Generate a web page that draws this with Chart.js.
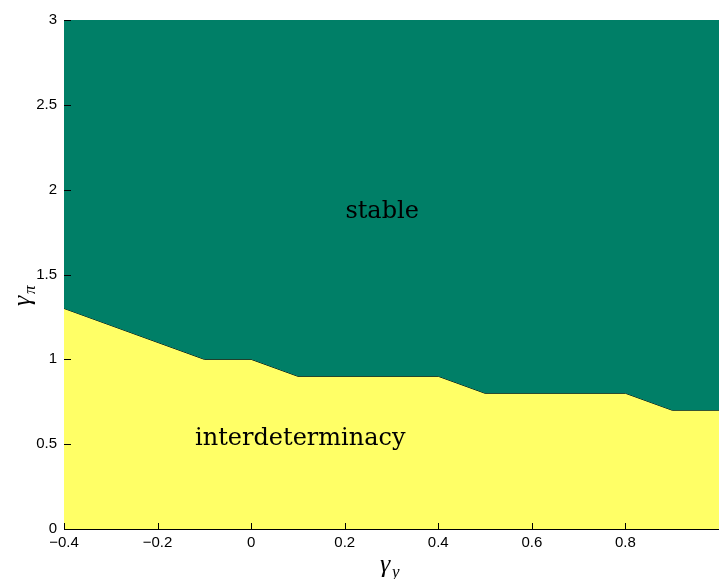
<!DOCTYPE html>
<html>
<head>
<meta charset="utf-8">
<script src="https://cdn.jsdelivr.net/npm/chart.js@4"></script>
<style>
  html, body { margin: 0; padding: 0; background: #fff; }
  #wrap { width: 719px; height: 579px; }
</style>
</head>
<body>
<div id="wrap"><canvas id="regionChart" width="719" height="579"></canvas></div>
<script>
// boundary between the two regions
const gammaY = [-0.4, -0.1, 0, 0.1, 0.4, 0.5, 0.8, 0.9, 1.0];
const gammaPi = [1.3, 1.0, 1.0, 0.9, 0.9, 0.8, 0.8, 0.7, 0.7];

const xTicks = [-0.4, -0.2, 0, 0.2, 0.4, 0.6, 0.8];
const yTicks = [0, 0.5, 1, 1.5, 2, 2.5, 3];

// region labels: [text, x, y]
const regionLabels = [
  ['stable', 0.28, 1.87],
  ['interdeterminacy', 0.105, 0.53]
];

const boundary = gammaY.map((x, i) => ({ x, y: gammaPi[i] }));

const fmt = v => String(v).replace('-', '\u2212');

// inward tick marks, region labels, greek axis titles
const extras = {
  id: 'extras',
  afterDatasetsDraw(chart) {
    const { ctx, chartArea, scales } = chart;
    const { x: xs, y: ys } = scales;
    ctx.save();
    ctx.strokeStyle = '#000';
    ctx.lineWidth = 1;
    ctx.beginPath();
    xTicks.forEach(v => {
      const px = Math.round(xs.getPixelForValue(v)) + 0.5;
      ctx.moveTo(px, chartArea.bottom);
      ctx.lineTo(px, chartArea.bottom - 6);
    });
    yTicks.forEach(v => {
      const py = Math.round(ys.getPixelForValue(v)) + 0.5;
      ctx.moveTo(chartArea.left, py);
      ctx.lineTo(chartArea.left + 7, py);
    });
    ctx.stroke();

    ctx.fillStyle = '#000';
    ctx.font = '24px "DejaVu Serif", "Liberation Serif", serif';
    ctx.textAlign = 'center';
    ctx.textBaseline = 'middle';
    regionLabels.forEach(([t, x, y]) => {
      ctx.fillText(t, xs.getPixelForValue(x), ys.getPixelForValue(y));
    });

    // x title: gamma_y
    ctx.textBaseline = 'alphabetic';
    ctx.textAlign = 'left';
    ctx.font = 'italic 26px "Liberation Serif", serif';
    ctx.fillText('\u03b3', 380, 572);
    ctx.font = 'italic 17px "Liberation Serif", serif';
    ctx.fillText('y', 392, 577);

    // y title: gamma_pi
    ctx.translate(30, 296);
    ctx.rotate(-Math.PI / 2);
    ctx.font = 'italic 26px "Liberation Serif", serif';
    ctx.fillText('\u03b3', -10, 0);
    ctx.font = 'italic 17px "Liberation Serif", serif';
    ctx.fillText('\u03c0', 2, 5);
    ctx.restore();
  }
};

new Chart(document.getElementById('regionChart'), {
  type: 'scatter',
  data: {
    datasets: [
      {
        data: boundary,
        showLine: true,
        fill: 'end',
        backgroundColor: '#007f67',
        borderWidth: 0,
        pointRadius: 0
      },
      {
        data: boundary,
        showLine: true,
        fill: 'origin',
        backgroundColor: '#ffff66',
        borderColor: '#000',
        borderWidth: 1,
        pointRadius: 0
      }
    ]
  },
  options: {
    responsive: false,
    animation: false,
    layout: { padding: { top: 20, right: 0, left: 0, bottom: 0 } },
    plugins: { legend: { display: false }, tooltip: { enabled: false } },
    scales: {
      x: {
        type: 'linear',
        min: -0.4,
        max: 1.0,
        afterBuildTicks: s => { s.ticks = xTicks.map(value => ({ value })); },
        afterFit: s => { s.height = 50; },
        grid: { display: false, drawTicks: false },
        border: { display: true, color: '#000', width: 1 },
        ticks: {
          padding: 5,
          color: '#000',
          font: { family: '"Liberation Sans", Arial, sans-serif', size: 15 },
          callback: v => fmt(v),
          maxRotation: 0
        }
      },
      y: {
        type: 'linear',
        min: 0,
        max: 3,
        afterBuildTicks: s => { s.ticks = yTicks.map(value => ({ value })); },
        afterFit: s => { s.width = 64; },
        grid: { display: false, drawTicks: false },
        border: { display: true, color: '#000', width: 1 },
        ticks: {
          padding: 7,
          color: '#000',
          font: { family: '"Liberation Sans", Arial, sans-serif', size: 15 },
          callback: v => fmt(v)
        }
      }
    }
  },
  plugins: [extras]
});
</script>
</body>
</html>
